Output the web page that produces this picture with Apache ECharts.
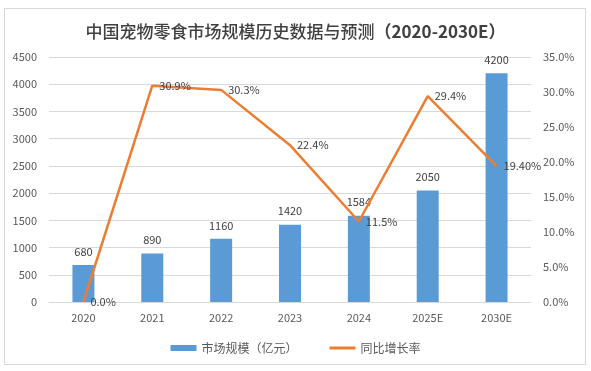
<!DOCTYPE html>
<html><head><meta charset="utf-8">
<script src="https://cdn.jsdelivr.net/npm/echarts@6/dist/echarts.min.js"></script>
<style>html,body{margin:0;padding:0;background:#fff;}#c{width:591px;height:371px;}
#frame{position:absolute;left:4px;top:8px;width:582px;height:357px;border:1px solid #d9d9d9;box-sizing:border-box;pointer-events:none;}</style>
</head><body><div id="c"></div><div id="frame"></div>
<script>
const categories = ['2020','2021','2022','2023','2024','2025E','2030E'];
const marketSize = [680, 890, 1160, 1420, 1584, 2050, 4200];
const growthRate = [0.0, 30.9, 30.3, 22.4, 11.5, 29.4, 19.40];
const growthLabels = ['0.0%','30.9%','30.3%','22.4%','11.5%','29.4%','19.40%'];

const font = '"Microsoft YaHei","Noto Sans CJK SC",sans-serif';
const chart = echarts.init(document.getElementById('c'), null, {renderer:'canvas'});
chart.setOption({
  animation:false,
  title:{text:'{a|中国宠物零食市场规模历史数据与预测}{b|（2020-2030E）}',left:'center',top:18,
    textStyle:{fontFamily:font,fontSize:17,color:'#404040',
      rich:{a:{fontFamily:font,fontSize:17,fontWeight:500,color:'#404040'},
            b:{fontFamily:font,fontSize:17,fontWeight:'bold',color:'#404040'}}}},
  legend:{bottom:12,left:'center',itemGap:32,itemWidth:26,itemHeight:6,
    textStyle:{fontFamily:font,fontSize:12,color:'#595959'},
    data:[{name:'市场规模（亿元）',icon:'rect'},
          {name:'同比增长率',icon:'path://M0,0L26,0L26,3L0,3Z',itemStyle:{color:'#ED7D31',opacity:1}}]},
  grid:{left:49,right:60,top:57,bottom:69,containLabel:false},
  xAxis:{type:'category',data:categories,
    axisLine:{lineStyle:{color:'#d9d9d9'}},axisTick:{show:false},
    axisLabel:{fontFamily:font,fontSize:11,color:'#595959',margin:10}},
  yAxis:[
    {type:'value',min:0,max:4500,interval:500,
      axisLabel:{fontFamily:font,fontSize:11,color:'#595959',margin:12,formatter:v=>String(v)},
      axisLine:{show:false},axisTick:{show:false},
      splitLine:{lineStyle:{color:'#d9d9d9'}}},
    {type:'value',min:0,max:35,interval:5,
      axisLabel:{fontFamily:font,fontSize:11,color:'#595959',margin:12,formatter:v=>v.toFixed(1)+'%'},
      axisLine:{show:false},axisTick:{show:false},splitLine:{show:false}}
  ],
  series:[
    {name:'市场规模（亿元）',type:'bar',data:marketSize,barWidth:22,
      itemStyle:{color:'#5B9BD5'},
      label:{show:true,position:'top',distance:8,fontFamily:font,fontSize:11,color:'#404040'}},
    {name:'同比增长率',type:'line',yAxisIndex:1,data:growthRate,
      symbol:'circle',symbolSize:0.01,showSymbol:true,
      lineStyle:{color:'#ED7D31',width:2.5},itemStyle:{color:'#ED7D31'},
      label:{show:true,position:'right',distance:7,fontFamily:font,fontSize:11,color:'#404040',
        formatter:p=>growthLabels[p.dataIndex]}}
  ]
});
</script></body></html>
